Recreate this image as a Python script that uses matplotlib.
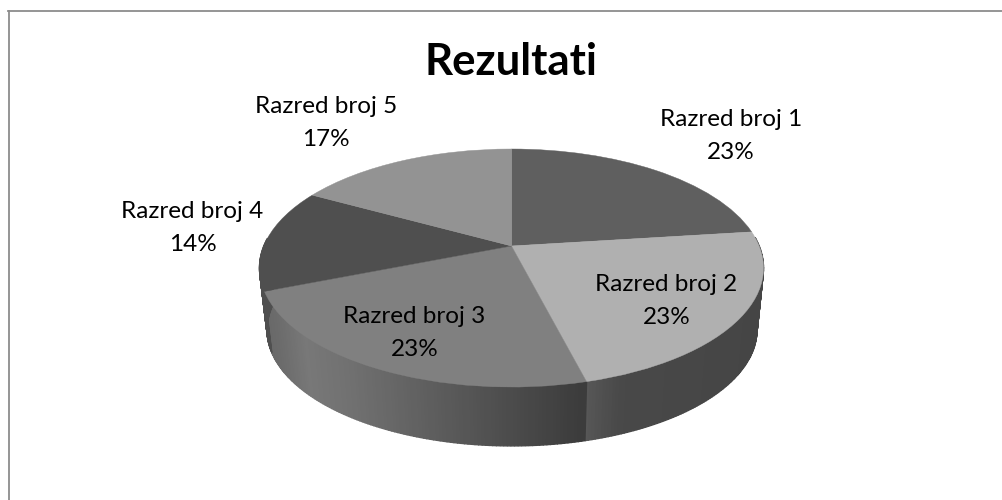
import numpy as np
import matplotlib
matplotlib.use("Agg")
import matplotlib.pyplot as plt
from matplotlib.lines import Line2D
from matplotlib.transforms import Transform

categories = ["Razred broj 1", "Razred broj 2", "Razred broj 3", "Razred broj 4", "Razred broj 5"]
values = [23, 23, 23, 14, 17]
title = "Rezultati"

top_colors = ["#5f5f5f", "#b0b0b0", "#808080", "#4f4f4f", "#939393"]

W, H = 1003, 500

# Pixel geometry of the tilted disc
cx, cy, rx, ry = 511.5, 268, 252, 119
k = 0.185  # how far the apex is pushed back by the perspective

# Centre of each label, in pixels
label_xy = [(731, 136), (666.5, 301), (414.5, 333), (192.5, 228), (326, 123)]

# Grey of the side wall along x, per slice
wall_x = {1: [580, 620, 770], 2: [255, 275, 305, 350, 450, 580], 3: [255, 270]}
wall_g = {1: [0.35, 0.285, 0.27], 2: [0.40, 0.42, 0.47, 0.44, 0.35, 0.235], 3: [0.31, 0.31]}


def persp(x, y):
    # Projective map that keeps the circle but moves its centre back
    d = 1 + k * y
    return x * np.sqrt(1 - k ** 2) / d, (y + k) / d


class Persp(Transform):
    input_dims = 2
    output_dims = 2

    def transform_non_affine(self, xy):
        u, v = persp(xy[:, 0], xy[:, 1])
        return np.column_stack([u, v])


fig = plt.figure(figsize=(W / 100, H / 100), dpi=100)
ax = fig.add_axes([0, 0, 1, 1])

wedges, _ = ax.pie(values, colors=top_colors, startangle=90, counterclock=False, radius=1)
ax.set_aspect("auto")
ax.set_xlim((0 - cx) / rx, (W - cx) / rx)
ax.set_ylim((cy - H) / ry, cy / ry)

# Side wall, drawn as thin strips under the top face
for i, w in enumerate(wedges):
    if i not in wall_x:
        continue
    t = np.radians(np.linspace(w.theta1, w.theta2, 120))
    u, v = persp(np.cos(t), np.sin(t))
    ub = 0.972 * u + 0.002
    vb = 0.975 * v - 0.52
    for j in range(len(t) - 1):
        if v[j] > 0.25:
            continue
        px = cx + rx * u[j]
        g = np.interp(px, wall_x[i], wall_g[i])
        ax.fill([u[j], u[j + 1], ub[j + 1], ub[j]], [v[j], v[j + 1], vb[j + 1], vb[j]],
                color=(g, g, g), lw=1.0, zorder=1)

# Top face
persp_tr = Persp()
for w, c in zip(wedges, top_colors):
    w.set_transform(persp_tr + ax.transData)
    w.set_zorder(2)
    w.set_edgecolor(c)
    w.set_linewidth(0.3)

plt.rcParams["font.family"] = ["Lato", "DejaVu Sans"]

for name, val, (x, y) in zip(categories, values, label_xy):
    ax.text((x - cx) / rx, (cy - y) / ry, f"{name}\n{val}%", ha="center", va="center",
            fontsize=17.5, linespacing=1.65, color="black", zorder=3)

ax.text(0, (cy - 62) / ry, title, ha="center", va="center", fontsize=31.5,
        fontweight="bold", color="black", zorder=3)

# Only the top and left edges of the frame are visible
fig.add_artist(Line2D([9 / W, 9 / W], [0, 1 - 10.5 / H], color="#8c8c8c", lw=1.3))
fig.add_artist(Line2D([8.5 / W, 1], [1 - 11 / H, 1 - 11 / H], color="#8c8c8c", lw=1.3))

fig.savefig("out.png", dpi=100)
